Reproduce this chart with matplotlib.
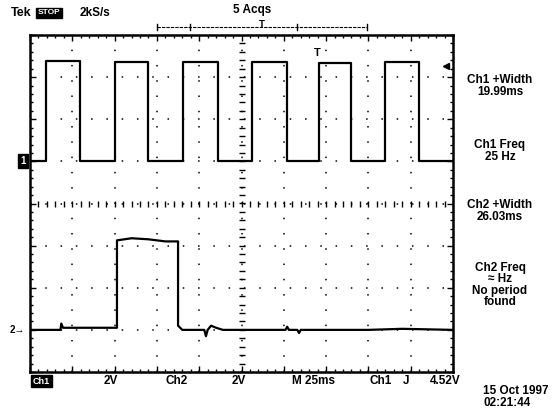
import numpy as np
import matplotlib
matplotlib.use("Agg")
import matplotlib.pyplot as plt
from matplotlib.ticker import MultipleLocator

plt.rcParams['font.family'] = ['Liberation Sans', 'DejaVu Sans']

# Scope settings
ms_per_div = 25
volts_per_div = 2
ch1_offset = 1.0     # divisions above centre
ch2_offset = -3.0

# Ch1 square wave (ms, V)
ch1_rise = [9.5, 50.2, 90.4, 131.0, 171.0, 210.0]
ch1_fall = [29.5, 69.7, 111.0, 152.0, 190.0, 230.0]
ch1_high = [4.75, 4.70, 4.72, 4.70, 4.65, 4.70]
ch1_low = 0.0

# Ch2 single pulse (ms, V)
ch2_t = [0, 18, 18.5, 19.5, 51.4, 51.4, 60, 70, 80, 87.5, 87.5, 90, 103, 104,
         105, 107, 110, 114, 140, 151, 152, 153, 158, 159, 160, 200, 220, 250]
ch2_v = [0.0, 0.0, 0.3, 0.1, 0.1, 4.25, 4.35, 4.3, 4.2, 4.2, 0.2, 0.0, 0.0,
         -0.3, 0.0, 0.2, 0.1, 0.0, 0.0, 0.0, 0.15, 0.0, 0.0, -0.15, 0.0, 0.0, 0.05, 0.0]

# readouts
right_labels = ["Ch1 +Width\n19.99ms", "Ch1 Freq\n25 Hz", "Ch2 +Width\n26.03ms",
                "Ch2 Freq\n\u2248 Hz\nNo period\nfound"]
right_label_y = [86, 151, 211, 285]
bottom_labels = ["2V", "Ch2", "2V", "M 25ms", "Ch1", "J", "4.52V"]
bottom_label_x = [104, 165, 232, 292, 370, 403, 430]
trig_level = 4.52

W, H = 553, 412
fig = plt.figure(figsize=(W / 100, H / 100), dpi=100)
ax = fig.add_axes([30 / W, 1 - 372 / H, 423 / W, 337 / H])
ax.set_xlim(0, 10 * ms_per_div)
ax.set_ylim(-4, 4)

# graticule
for k in range(1, 10):
    ax.axvline(k * ms_per_div, color="black", lw=1.1, ls=(0, (1, 9)))
for k in range(-3, 4):
    ax.axhline(k, color="black", lw=1.1, ls=(0, (1, 9)))
minor_x = np.arange(0, 250.1, ms_per_div / 5)
minor_y = np.arange(-4, 4.01, 0.2)
ax.plot(minor_x, np.zeros_like(minor_x), ls="none", marker="|", ms=4, color="black", mew=1)
ax.plot(np.full_like(minor_y, 125), minor_y, ls="none", marker="_", ms=4, color="black", mew=1)

ax.xaxis.set_minor_locator(MultipleLocator(ms_per_div / 5))
ax.yaxis.set_minor_locator(MultipleLocator(0.2))
ax.xaxis.set_major_locator(MultipleLocator(ms_per_div))
ax.yaxis.set_major_locator(MultipleLocator(1))
ax.tick_params(which="both", direction="in", top=True, right=True,
               labelbottom=False, labelleft=False, width=1, color="black")
ax.tick_params(which="major", length=4)
ax.tick_params(which="minor", length=2.5)
for s in ax.spines.values():
    s.set_linewidth(1.8)

# Ch1 trace
t1, v1 = [0], [ch1_low]
for r, f, h in zip(ch1_rise, ch1_fall, ch1_high):
    t1 += [r, r, f, f]
    v1 += [ch1_low, h, h, ch1_low]
t1.append(250)
v1.append(ch1_low)
ax.plot(t1, ch1_offset + np.array(v1) / volts_per_div, color="black", lw=1.6)

# Ch2 trace
ax.plot(ch2_t, ch2_offset + np.array(ch2_v) / volts_per_div, color="black", lw=1.6)

# markers
ax.plot([246], [ch1_offset + trig_level / volts_per_div], marker="<", ms=5,
        color="black", clip_on=False)
ax.text(170, ch1_offset + 4.9 / volts_per_div, "T", fontsize=8, fontweight="bold",
        ha="center", va="bottom")
ax.text(-2.5, ch1_offset, "1", fontsize=7, fontweight="bold", color="white",
        ha="right", va="center", bbox=dict(boxstyle="square,pad=0.2", fc="black", ec="black"))
ax.text(-3, ch2_offset, "2\u2192", fontsize=7, fontweight="bold", ha="right", va="center")

# record bar at top
ax.plot([75, 199], [4.19, 4.19], color="black", lw=0.8, ls=(0, (3, 1)), clip_on=False)
for tx in [75, 199, 94.6, 157.8]:
    ax.plot([tx, tx], [4.12, 4.27], color="black", lw=1, clip_on=False)
ax.text(137, 4.12, "T", fontsize=7, fontweight="bold", ha="center", va="bottom")

# texts
fs = 8.5
fig.text(11 / W, 1 - 13 / H, "Tek", fontsize=9, fontweight="bold", va="center")
fig.text(38 / W, 1 - 13 / H, "STOP", fontsize=6, fontweight="bold", color="white", va="center",
         bbox=dict(boxstyle="square,pad=0.2", fc="black", ec="black"))
fig.text(80 / W, 1 - 13 / H, "2kS/s", fontsize=fs, fontweight="bold", va="center")
fig.text(252 / W, 1 - 10 / H, "5 Acqs", fontsize=fs, fontweight="bold", va="center", ha="center")

for lab, y in zip(right_labels, right_label_y):
    fig.text(500 / W, 1 - y / H, lab, fontsize=fs, fontweight="bold", ha="center",
             va="center", linespacing=0.95)

fig.text(33 / W, 1 - 381 / H, "Ch1", fontsize=6.5, fontweight="bold", color="white", va="center",
         bbox=dict(boxstyle="square,pad=0.2", fc="black", ec="black"))
for lab, x in zip(bottom_labels, bottom_label_x):
    fig.text(x / W, 1 - 381 / H, lab, fontsize=fs, fontweight="bold", va="center")
fig.text(483 / W, 1 - 397 / H, "15 Oct 1997\n02:21:44", fontsize=fs, fontweight="bold",
         va="center", linespacing=0.95)

fig.savefig("out.png", dpi=100)
